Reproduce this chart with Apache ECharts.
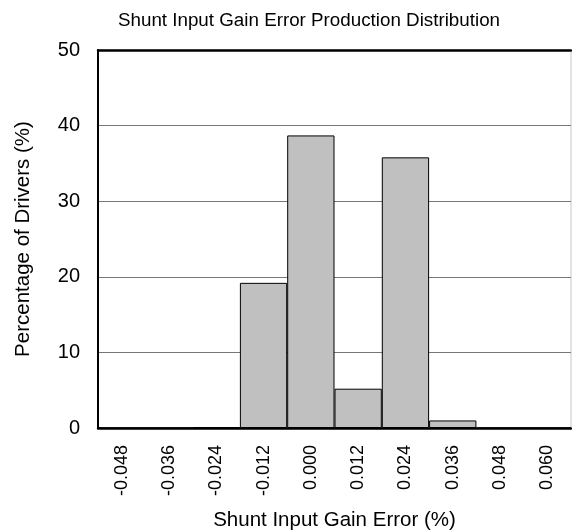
<!DOCTYPE html>
<html>
<head>
<meta charset="utf-8">
<script src="https://cdn.jsdelivr.net/npm/echarts@6/dist/echarts.min.js"></script>
<style>
  html, body { margin: 0; padding: 0; background: #fff; }
  #chart { width: 572px; height: 532px; }
</style>
</head>
<body>
<div id="chart"></div>
<script>
  // histogram bins (%) and share of drivers in each bin
  const categories = ['-0.048', '-0.036', '-0.024', '-0.012', '0.000', '0.012', '0.024', '0.036', '0.048', '0.060']
  const percentages = [0, 0, 0.1, 19.2, 38.7, 5.2, 35.8, 1.0, 0, 0]

  const font = 'Arial, "Liberation Sans", sans-serif'

  const chart = echarts.init(document.getElementById('chart'))
  chart.setOption({
    animation: false,
    title: {
      text: 'Shunt Input Gain Error Production Distribution',
      left: 304, top: 6, textAlign: 'center',
      textStyle: { fontFamily: font, fontSize: 18.8, fontWeight: 'normal', color: '#000' }
    },
    grid: {
      left: 98, right: 1, top: 50, bottom: 104,
      outerBoundsMode: 'none',
      show: true, borderColor: '#c8c8c8', borderWidth: 1
    },
    xAxis: [{
      type: 'category',
      data: categories,
      name: 'Shunt Input Gain Error (%)',
      nameLocation: 'middle',
      nameGap: 82,
      nameTextStyle: { fontFamily: font, fontSize: 20.5, color: '#000' },
      axisLine: { lineStyle: { color: '#000', width: 2.5 } },
      axisTick: { show: false },
      axisLabel: { rotate: 90, margin: 17, fontFamily: font, fontSize: 18, color: '#000' }
    }, {
      type: 'category',
      position: 'top',
      data: categories,
      axisLine: { lineStyle: { color: '#000', width: 2.5 } },
      axisTick: { show: false },
      axisLabel: { show: false }
    }],
    yAxis: {
      type: 'value',
      min: 0, max: 50, interval: 10,
      name: 'Percentage of Drivers (%)',
      nameLocation: 'middle',
      nameGap: 64,
      nameTextStyle: { fontFamily: font, fontSize: 20.5, color: '#000' },
      axisLine: { show: true, lineStyle: { color: '#000', width: 2 } },
      axisTick: { show: false },
      axisLabel: { margin: 18, fontFamily: font, fontSize: 20, color: '#000' },
      splitLine: { lineStyle: { color: '#777', width: 1 } }
    },
    series: [{
      type: 'bar',
      data: percentages,
      barWidth: '100%',
      itemStyle: { color: '#c0c0c0', borderColor: '#000', borderWidth: 1 }
    }]
  })
</script>
</body>
</html>
